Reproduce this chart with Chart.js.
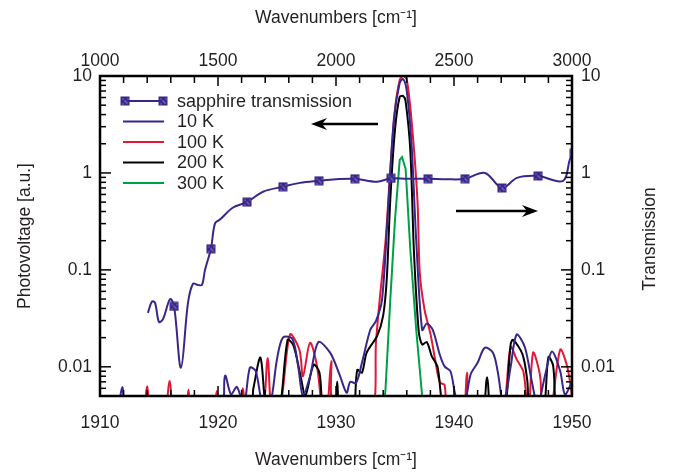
<!DOCTYPE html>
<html>
<head>
<meta charset="utf-8">
<script src="https://cdn.jsdelivr.net/npm/chart.js@4"></script>
<style>
  html, body { margin: 0; padding: 0; background: #fff; }
</style>
</head>
<body>
<canvas id="pvChart" width="674" height="474"></canvas>
<script>
// photovoltage spectra (bottom axis, cm-1) at four temperatures
const wn10K = [
  1910, 1911.3, 1911.9, 1912.4, 1920.0, 1920.6, 1921.1, 1921.6, 1922.2, 1922.7,
  1923.2, 1923.8, 1924.4, 1925.0, 1925.5, 1926.3, 1926.8, 1927.2, 1927.8, 1928.5,
  1929.5, 1930.3, 1930.9, 1931.2, 1931.7, 1932.2, 1932.9, 1933.4, 1933.9, 1934.4,
  1934.9, 1935.4, 1935.7, 1936.0, 1936.4, 1936.8, 1937.3, 1937.7, 1938.2, 1938.8,
  1939.2, 1939.7, 1940.1, 1940.7, 1941.4, 1942.0, 1942.6, 1943.3, 1943.7, 1944.2,
  1944.8, 1945.3, 1946.0, 1946.6, 1947.1, 1947.7, 1948.3, 1949.0, 1949.4, 1950
];
const pv10K = [
  0.003, 0.003, 0.0062, 0.003, 0.003, 0.0081, 0.0052, 0.0062, 0.004, 0.0098,
  0.009, 0.004, 0.004, 0.012, 0.020, 0.0195, 0.010, 0.005, 0.008, 0.018,
  0.014, 0.0083, 0.0054, 0.0070, 0.0068, 0.011, 0.024, 0.030, 0.049, 0.40,
  3.5, 8.5, 9.3, 7.0, 2.0, 0.2, 0.024, 0.028, 0.024, 0.0133,
  0.0101, 0.009, 0.0052, 0.003, 0.0083, 0.011, 0.0157, 0.014, 0.009, 0.004,
  0.01, 0.0215, 0.016, 0.007, 0.004, 0.008, 0.0144, 0.009, 0.0052, 0.007
];

const wn100K = [
  1910, 1913.4, 1914.0, 1914.3, 1915.4, 1915.9, 1916.3, 1917.2, 1917.5, 1917.8,
  1919.5, 1919.9, 1920.3, 1921.7, 1922.1, 1922.5, 1923.7, 1924.2, 1924.6, 1925.3,
  1926.1, 1926.9, 1927.2, 1927.8, 1928.4, 1928.9, 1929.2, 1929.6, 1929.9, 1932.9,
  1933.4, 1933.7, 1934.2, 1934.6, 1935.0, 1935.4, 1935.7, 1936.0, 1936.4, 1936.9,
  1937.1, 1937.5, 1938.0, 1938.4, 1938.8, 1939.2, 1939.5, 1940.7, 1941.1, 1941.4,
  1943.9, 1944.8, 1945.3, 1945.9, 1946.3, 1946.7, 1947.3, 1947.5, 1948.1, 1949.0,
  1949.6, 1950
];
const pv100K = [
  0.003, 0.003, 0.0063, 0.003, 0.003, 0.0072, 0.003, 0.003, 0.0058, 0.003,
  0.003, 0.0056, 0.003, 0.003, 0.006, 0.003, 0.003, 0.0123, 0.003, 0.004,
  0.0215, 0.015, 0.008, 0.0177, 0.010, 0.003, 0.003, 0.0115, 0.003, 0.003,
  0.019, 0.049, 0.2, 1.07, 4.5, 9.1, 10, 9.1, 3.5, 0.53,
  0.093, 0.039, 0.022, 0.0119, 0.0069, 0.0065, 0.003, 0.003, 0.0087, 0.003,
  0.003, 0.016, 0.012, 0.0087, 0.003, 0.014, 0.008, 0.003, 0.003, 0.015,
  0.010, 0.005
];

const wn200K = [
  1910, 1922.5, 1923.0, 1923.6, 1924.2, 1925.1, 1925.9, 1926.4, 1927.0, 1927.4,
  1928.1, 1928.6, 1929.0, 1929.9, 1930.1, 1930.4, 1931.4, 1931.8, 1932.2, 1932.6,
  1933.5, 1934.0, 1934.3, 1934.6, 1935.0, 1935.4, 1935.7, 1935.9, 1936.3, 1936.6,
  1937.0, 1937.3, 1937.7, 1938.1, 1938.6, 1938.9, 1939.2, 1942.2, 1942.8, 1943.2,
  1944.2, 1944.8, 1945.0, 1945.8, 1946.2, 1946.5, 1947.5, 1948.0, 1948.4, 1948.8,
  1950
];
const pv200K = [
  0.003, 0.003, 0.006, 0.0124, 0.003, 0.003, 0.019, 0.0165, 0.008, 0.005,
  0.0105, 0.0087, 0.003, 0.003, 0.007, 0.003, 0.003, 0.0093, 0.0087, 0.014,
  0.021, 0.034, 0.08, 0.53, 2.8, 6.1, 6.2, 5.5, 1.7, 0.16,
  0.024, 0.017, 0.018, 0.013, 0.010, 0.005, 0.003, 0.003, 0.0078, 0.003,
  0.003, 0.017, 0.019, 0.0135, 0.0074, 0.003, 0.003, 0.0126, 0.0103, 0.003,
  0.003
];

const wn300K = [1934.0, 1934.2, 1934.6, 1935.0, 1935.4, 1935.6, 1935.9, 1936.3, 1936.8, 1937.3, 1937.5];
const pv300K = [0.003, 0.006, 0.049, 0.33, 1.36, 1.46, 1.1, 0.16, 0.024, 0.005, 0.003];

// sapphire window transmission (top axis, cm-1)
const sapphireWn = [
  1203, 1220, 1233, 1250, 1267, 1297, 1314, 1343, 1373, 1394,
  1415, 1432, 1445, 1470, 1487, 1508, 1564, 1623, 1691, 1775,
  1847, 1928, 2000, 2080, 2174, 2233, 2300, 2390, 2470, 2547,
  2631, 2703, 2767, 2856, 2962, 2992, 3010
];
const sapphireT = [
  0.036, 0.047, 0.046, 0.029, 0.031, 0.05, 0.042, 0.0098, 0.046, 0.072,
  0.07, 0.07, 0.1, 0.165, 0.3, 0.33, 0.44, 0.50, 0.64, 0.72,
  0.79, 0.83, 0.86, 0.87, 0.81, 0.88, 0.87, 0.87, 0.86, 0.87,
  1.0, 0.70, 0.89, 0.93, 0.83, 1.4, 1.6
];
const sapphireMarkWn = [1314, 1470, 1623, 1775, 1928, 2080, 2233, 2390, 2547, 2703, 2856, 3010];

const bottomTicks = [1910, 1920, 1930, 1940, 1950];
const topTicks = [1000, 1500, 2000, 2500, 3000];
const logTicks = [0.01, 0.1, 1, 10];

const PURPLE = 'rgb(58, 38, 138)';
const RED = 'rgb(226, 24, 54)';
const BLACK = '#000';
const GREEN = 'rgb(0, 160, 70)';
const TEXT = '#231f20';
const FONT = '"Liberation Sans", Arial, sans-serif';

const toPoints = (xs, ys) => xs.map((x, i) => ({ x: x, y: ys[i] }));

// square marker with a faint dotted cross, used on the plot and in the legend
const markerImg = document.createElement('canvas');
markerImg.width = 10;
markerImg.height = 10;
(function () {
  const c = markerImg.getContext('2d');
  c.fillStyle = PURPLE;
  c.fillRect(0.5, 0.5, 9, 9);
  c.fillStyle = 'rgba(205, 195, 240, 0.9)';
  [[2, 2], [4, 4], [6, 6], [7, 2], [2, 7], [5, 5]].forEach(p => c.fillRect(p[0] + 0.5, p[1] + 0.5, 1, 1));
})();

const legendItems = [
  { label: 'sapphire transmission', color: PURPLE, marker: true },
  { label: '10 K', color: PURPLE },
  { label: '100 K', color: RED },
  { label: '200 K', color: BLACK },
  { label: '300 K', color: GREEN }
];

function arrow(ctx, x1, x2, y) {
  const dir = x2 > x1 ? 1 : -1;
  ctx.beginPath();
  ctx.moveTo(x1, y);
  ctx.lineTo(x2 - dir * 10, y);
  ctx.stroke();
  ctx.beginPath();
  ctx.moveTo(x2, y);
  ctx.lineTo(x2 - dir * 16, y - 6);
  ctx.lineTo(x2 - dir * 11, y);
  ctx.lineTo(x2 - dir * 16, y + 6);
  ctx.closePath();
  ctx.fill();
}

// frame, inward ticks, legend, arrows and right-hand title
const decorations = {
  id: 'decorations',
  afterDatasetsDraw(chart) {
    const { ctx, chartArea: a, scales } = chart;
    ctx.save();
    ctx.strokeStyle = '#000';
    ctx.lineWidth = 1.5;
    const tick = (x1, y1, x2, y2) => {
      ctx.beginPath(); ctx.moveTo(x1, y1); ctx.lineTo(x2, y2); ctx.stroke();
    };
    for (let v = 1910; v <= 1950; v += 2) {
      const x = scales.x.getPixelForValue(v);
      tick(x, a.bottom, x, a.bottom - (v % 10 === 0 ? 10 : 6));
    }
    for (let v = 1000; v <= 3000; v += 100) {
      const x = scales.x2.getPixelForValue(v);
      tick(x, a.top, x, a.top + (v % 500 === 0 ? 10 : 7));
    }
    for (let e = -3; e <= 1; e++) {
      for (let m = 1; m <= 9; m++) {
        const v = m * Math.pow(10, e);
        if (v < 0.005 - 1e-9 || v > 10 + 1e-9) continue;
        const len = m === 1 ? 11 : 6;
        const yl = scales.y.getPixelForValue(v);
        const yr = scales.y2.getPixelForValue(v);
        tick(a.left, yl, a.left + len, yl);
        tick(a.right, yr, a.right - len, yr);
      }
    }
    ctx.lineWidth = 2.5;
    ctx.strokeRect(a.left, a.top, a.right - a.left, a.bottom - a.top);

    // legend
    ctx.font = '18px ' + FONT;
    ctx.textBaseline = 'middle';
    ctx.textAlign = 'left';
    legendItems.forEach((it, i) => {
      const y = 101 + i * 20.5;
      ctx.strokeStyle = it.color;
      ctx.lineWidth = 2;
      ctx.beginPath(); ctx.moveTo(123, y); ctx.lineTo(164, y); ctx.stroke();
      if (it.marker) {
        ctx.drawImage(markerImg, 120, y - 5);
        ctx.drawImage(markerImg, 158, y - 5);
      }
      ctx.fillStyle = TEXT;
      ctx.fillText(it.label, 177, y + 1);
    });

    // arrows pointing to the axis each curve belongs to
    ctx.strokeStyle = '#000';
    ctx.fillStyle = '#000';
    ctx.lineWidth = 2.5;
    arrow(ctx, 378, 311, 124);
    arrow(ctx, 456, 538, 211);

    // right axis title, reading upwards
    ctx.save();
    ctx.translate(650, (a.top + a.bottom) / 2 + 3);
    ctx.rotate(-Math.PI / 2);
    ctx.textAlign = 'center';
    ctx.fillStyle = TEXT;
    ctx.font = '17.5px ' + FONT;
    ctx.fillText('Transmission', 0, 0);
    ctx.restore();
    ctx.restore();
  }
};

const logLabel = v => (logTicks.includes(v) ? String(v) : '');
const plainLabel = v => String(v);
const fixTicks = list => scale => { scale.ticks = list.map(v => ({ value: v })); };
const tickFont = { family: FONT, size: 17.5 };

new Chart(document.getElementById('pvChart'), {
  type: 'line',
  data: {
    datasets: [
      {
        label: 'sapphire transmission',
        data: toPoints(sapphireWn, sapphireT),
        xAxisID: 'x2', yAxisID: 'y2',
        borderColor: PURPLE, borderWidth: 2, tension: 0.35,
        pointStyle: markerImg,
        pointRadius: ctx => (sapphireMarkWn.includes(sapphireWn[ctx.dataIndex]) ? 5 : 0)
      },
      { label: '10 K', data: toPoints(wn10K, pv10K), borderColor: PURPLE, borderWidth: 2, pointRadius: 0, tension: 0.3 },
      { label: '200 K', data: toPoints(wn200K, pv200K), borderColor: BLACK, borderWidth: 2, pointRadius: 0, tension: 0.3 },
      { label: '100 K', data: toPoints(wn100K, pv100K), borderColor: RED, borderWidth: 2, pointRadius: 0, tension: 0.3 },
      { label: '300 K', data: toPoints(wn300K, pv300K), borderColor: GREEN, borderWidth: 2, pointRadius: 0, tension: 0 }
    ]
  },
  options: {
    responsive: false,
    animation: false,
    layout: { padding: 0 },
    plugins: { legend: { display: false }, tooltip: { enabled: false } },
    scales: {
      x: {
        type: 'linear', position: 'bottom', min: 1910, max: 1950,
        afterBuildTicks: fixTicks(bottomTicks),
        afterFit: s => { s.height = 78; },
        grid: { display: false, drawTicks: false }, border: { display: false },
        ticks: { color: TEXT, font: tickFont, padding: 17, maxRotation: 0, autoSkip: false, callback: plainLabel },
        title: { display: true, text: 'Wavenumbers [cm\u207B\u00B9]', color: TEXT, font: tickFont, padding: { top: 0, bottom: 3 } }
      },
      x2: {
        type: 'linear', position: 'top', min: 1000, max: 3000,
        afterBuildTicks: fixTicks(topTicks),
        afterFit: s => { s.height = 76; },
        grid: { display: false, drawTicks: false }, border: { display: false },
        ticks: { color: TEXT, font: tickFont, padding: 4, maxRotation: 0, autoSkip: false, callback: plainLabel },
        title: { display: true, text: 'Wavenumbers [cm\u207B\u00B9]', color: TEXT, font: tickFont, padding: { top: 8, bottom: 0 } }
      },
      y: {
        type: 'logarithmic', position: 'left', min: 0.005, max: 10,
        afterBuildTicks: fixTicks(logTicks),
        afterFit: s => { s.width = 100; },
        grid: { display: false, drawTicks: false }, border: { display: false },
        ticks: { color: TEXT, font: tickFont, padding: 8, autoSkip: false, callback: logLabel },
        title: { display: true, text: 'Photovoltage [a.u.]', color: TEXT, font: tickFont, padding: { top: 15, bottom: 0 } }
      },
      y2: {
        type: 'logarithmic', position: 'right', min: 0.005, max: 10,
        afterBuildTicks: fixTicks(logTicks),
        afterFit: s => { s.width = 102; },
        grid: { display: false, drawTicks: false }, border: { display: false },
        ticks: { color: TEXT, font: tickFont, padding: 9, autoSkip: false, callback: logLabel }
      }
    }
  },
  plugins: [decorations]
});
</script>
</body>
</html>
